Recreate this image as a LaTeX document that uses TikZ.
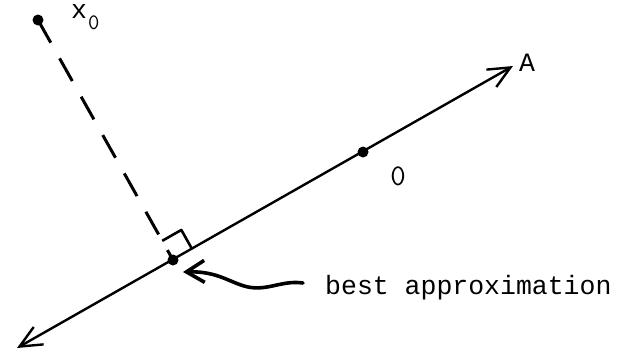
\documentclass[tikz,border=0pt]{standalone}
\usepackage{fontspec}
\newfontfamily\cour{Liberation Mono}
\usetikzlibrary{arrows.meta,calc}
\begin{document}
\begin{tikzpicture}[x=1pt,y=-1pt,
  dot/.style={circle,fill=black,inner sep=0pt,minimum size=11pt},
  mainline/.style={line width=2.4pt,{Straight Barb[length=22pt,width=20pt]}-{Straight Barb[length=22pt,width=20pt]}},
  perp/.style={line width=3pt,dash pattern=on 26pt off 18pt},
  rightmark/.style={line width=2.6pt,line join=round},
  squig/.style={line width=3.6pt,line cap=round,-{Straight Barb[length=18pt,width=22pt]}},
  lbl/.style={inner sep=0pt,font=\fontsize{26.5}{26.5}\selectfont\cour}]
\useasboundingbox (0,0) rectangle (618,354);
% points
\coordinate (L) at (17,348);
\coordinate (R) at (513,66);
\node[dot] (X0) at (38,20) {};
\node[dot] (F) at (173,260) {};
\node[dot] (O) at (363,152) {};
% main line
\draw[mainline] (L) -- (R);
% dashed perpendicular
\draw[perp] (X0.center) -- (F.center);
% right angle mark
\coordinate (Pa) at ($(F.center)!22pt!(O.center)$);
\coordinate (Pb) at ($(F.center)!22pt!(X0.center)$);
\coordinate (Pc) at ($(Pa)+(Pb)-(F.center)$);
\draw[rightmark] (Pb) -- (Pc) -- (Pa);
% curvy arrow
\coordinate (T) at (303,283);
\coordinate (H) at (183,272);
\draw[squig] (T) .. controls (282,280) and (268,291) .. (248,287) .. controls (230,283) and (218,271) .. (H);
% labels
\node[lbl,anchor=base west,text height=11pt] (xlab) at (71,18) {x\kern1pt\raisebox{-11pt}{\fontsize{22}{22}\selectfont\ttfamily 0}};
\node[lbl,anchor=base west] (alab) at (519,71) {A};
\node[lbl,anchor=base,font=\fontsize{30}{30}\selectfont\ttfamily] (olab) at (398,185) {0};
\node[lbl,anchor=base west] (blab) at (325,294) {best approximation};
\end{tikzpicture}
\end{document}
